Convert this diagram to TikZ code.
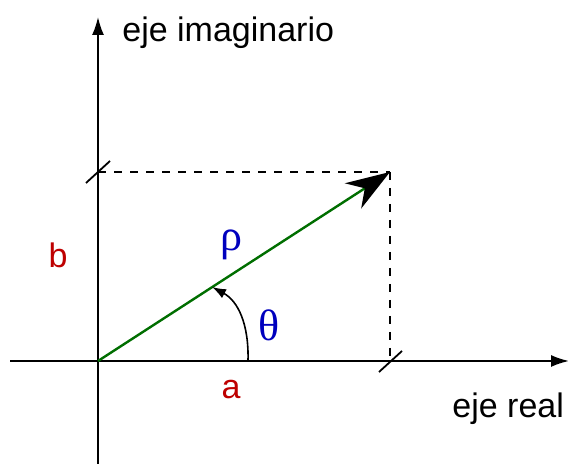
\documentclass[tikz,border=0pt]{standalone}
\usepackage{fontspec}
\setmainfont{Liberation Sans}
\newfontfamily\greekfont{Liberation Serif}
\usepackage{xcolor}
\usetikzlibrary{arrows.meta}
\definecolor{darkred}{RGB}{190,0,0}
\definecolor{darkblue}{RGB}{0,0,190}
\definecolor{darkgreen}{RGB}{0,110,0}

\begin{document}
\begin{tikzpicture}[
    x=0.5pt, y=0.5pt,
    every node/.style={font=\fontsize{17}{20}\selectfont, inner sep=0pt},
    axis/.style={line width=0.9pt, -{Latex[length=9pt,width=6pt]}},
    guide/.style={line width=0.7pt, dash pattern=on 4pt off 4pt},
    tick/.style={line width=0.9pt},
    vec/.style={line width=1.2pt, draw=darkgreen, -{Stealth[length=22pt,width=15pt,inset=7pt,black]}},
    anglearrow/.style={line width=0.8pt, -{Latex[length=7pt,width=5pt]}},
    redlbl/.style={text=darkred},
    bluelbl/.style={text=darkblue, font=\fontsize{22}{26}\selectfont\greekfont}
]
\useasboundingbox (0,0) rectangle (568,464);

% points
\coordinate (O) at (98,103);
\coordinate (P) at (390,292);
\coordinate (Px) at (390,103);
\coordinate (Py) at (98,292);
\coordinate (xl) at (10,103);
\coordinate (xr) at (569,103);
\coordinate (yb) at (98,0);
\coordinate (yt) at (98,447);
\coordinate (arcstart) at (248,103);
\coordinate (arcend) at (212,177);

% axes
\draw[axis] (xl) -- (xr);
\draw[axis] (yb) -- (yt);

% projections
\draw[guide] (Py) -- (P);
\draw[guide] (P) -- (Px);

% ticks
\draw[tick] (Py) ++(-12,-11) -- ++(24,22);
\draw[tick] (Px) ++(-11,-11) -- ++(23,21);

% vector
\draw[vec] (O) -- (P);

% angle
\draw[anglearrow] (arcstart) .. controls (249,140) and (238,163) .. (arcend);

% labels
\node[anchor=base west] (ylbl) at (122,422) {eje imaginario};
\node[anchor=base west] (xlbl) at (452,46) {eje real};
\node[redlbl] (blbl) at (58,209) {b};
\node[redlbl] (albl) at (231,74) {a};
\node[bluelbl] (rholbl) at (231,219) {ρ};
\node[bluelbl] (thetalbl) at (269,139) {θ};

\end{tikzpicture}
\end{document}
